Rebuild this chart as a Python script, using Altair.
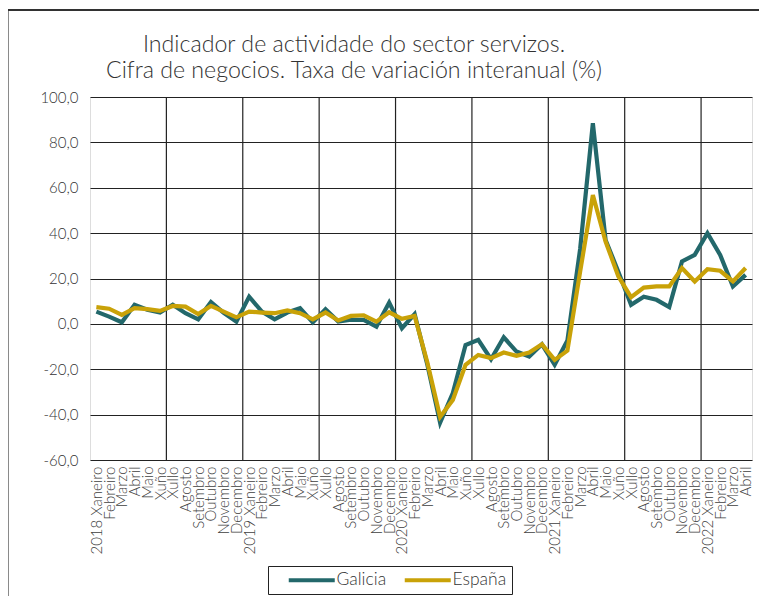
import altair as alt
import pandas as pd

month_names = ["Xaneiro", "Febreiro", "Marzo", "Abril", "Maio", "Xuño", "Xullo",
               "Agosto", "Setembro", "Outubro", "Novembro", "Decembro"]
years = [2018, 2019, 2020, 2021, 2022]
n_months_last_year = 4

labels = []
for y in years:
    n = 12 if y != 2022 else n_months_last_year
    for k in range(n):
        labels.append(f"{y} {month_names[k]}" if k == 0 else month_names[k])

galicia = [5.4, 3.2, 0.7, 8.4, 6.2, 5.0, 8.4, 4.7, 2.0, 9.6, 4.9, 1.0,
           12.0, 5.4, 2.0, 5.0, 6.9, 0.6, 6.5, 1.0, 1.8, 1.8, -1.2, 9.4,
           -1.9, 4.3, -18.0, -43.5, -30.5, -9.3, -7.0, -15.6, -5.9, -12.2, -14.4, -9.0,
           -18.0, -7.3, 33.0, 88.4, 37.0, 23.0, 8.4, 12.0, 10.6, 7.4, 27.5, 30.4,
           40.0, 30.4, 16.5, 21.6]
espana = [7.4, 6.7, 4.0, 6.9, 6.5, 5.7, 7.9, 7.6, 4.3, 7.9, 5.4, 2.9,
          5.4, 5.0, 4.7, 5.9, 4.7, 2.0, 5.0, 1.5, 3.5, 3.8, 1.0, 5.1,
          2.2, 3.5, -17.0, -41.0, -33.5, -18.0, -13.7, -15.1, -12.6, -14.1, -12.6, -9.0,
          -15.9, -11.8, 23.0, 56.8, 36.3, 21.0, 11.8, 16.0, 16.5, 16.5, 24.6, 18.7,
          24.1, 23.4, 18.7, 24.6]

series = ["Galicia", "España"]
colors = ["#23686b", "#c9a208"]
y_ticks = [-60, -40, -20, 0, 20, 40, 60, 80, 100]
grid_every = 6

n = len(labels)
df = pd.DataFrame({
    "i": list(range(n)) * 2,
    "serie": [series[0]] * n + [series[1]] * n,
    "v": galicia + espana,
})
grid_df = pd.DataFrame({"b": [k - 0.5 for k in range(grid_every, n, grid_every)]})

font = "Lato"
xs = alt.Scale(domain=[-0.5, n - 0.5], nice=False, zero=False)
ys = alt.Scale(domain=[y_ticks[0], y_ticks[-1]], nice=False, zero=False)

label_js = "[" + ",".join("'" + l + "'" for l in labels) + "]"

x_axis = alt.Axis(values=list(range(n)), labelExpr=label_js + "[datum.value]",
                  labelAngle=-90, grid=False, ticks=False, domain=False, title=None,
                  labelFontSize=15, labelFontWeight=300, labelColor="#404040", labelFont=font,
                  labelPadding=6, labelOverlap=False, labelBound=False, labelFlush=False)
y_axis = alt.Axis(values=y_ticks,
                  labelExpr="replace(replace(format(datum.value, '.1f'), '.', ','), '\u2212', '-')",
                  grid=True, gridColor="#222222", gridWidth=1.2, ticks=False, domain=False,
                  title=None, labelFontSize=15, labelFontWeight=300, labelColor="#333333",
                  labelFont=font, labelPadding=12)

color = alt.Color("serie:N", scale=alt.Scale(domain=series, range=colors),
                  legend=alt.Legend(title=None, orient="none", legendX=178, legendY=469,
                                    direction="horizontal",
                                    symbolType="M-4.6,0H4.6", symbolSize=100,
                                    symbolStrokeWidth=4,
                                    labelFontSize=17.5, labelFontWeight=300, labelFont=font,
                                    labelColor="#333333",
                                    strokeColor="#222222", padding=5, columnPadding=2,
                                    symbolOffset=30, labelOffset=16))

grid = alt.Chart(grid_df).mark_rule(color="#222222", strokeWidth=1.2).encode(
    x=alt.X("b:Q", scale=xs, axis=x_axis))

frame = alt.Chart(grid_df).mark_rect(fill=None, stroke="#333333", strokeWidth=1.2, clip=False).encode(
    x=alt.value(-82.5), x2=alt.value(700), y=alt.value(-87), y2=alt.value(520))

def line(name):
    return alt.Chart(df).transform_filter(alt.datum.serie == name).mark_line(
        strokeWidth=4.2, strokeJoin="miter").encode(
        x=alt.X("i:Q", scale=xs, axis=x_axis),
        y=alt.Y("v:Q", scale=ys, axis=y_axis),
        color=color)

chart = alt.layer(frame, grid, line(series[0]), line(series[1])).properties(
    width=662, height=363,
    title=alt.TitleParams(
        text=["Indicador de actividade do sector servizos.",
              "Cifra de negocios. Taxa de variación interanual (%)"],
        font=font, fontSize=23.2, fontWeight=300, color="#333333",
        anchor="middle", frame="group", dx=-67, dy=74, offset=0, lineHeight=26),
    autosize=alt.AutoSizeParams(type="none"),
    padding={"left": 82, "top": 89, "right": 7, "bottom": 136},
).configure_view(fill="#f8f4e6", stroke="#888888", strokeWidth=2.5
).configure(background="white")

chart.save("out.html", embed_options={"renderer": "svg", "actions": False})
